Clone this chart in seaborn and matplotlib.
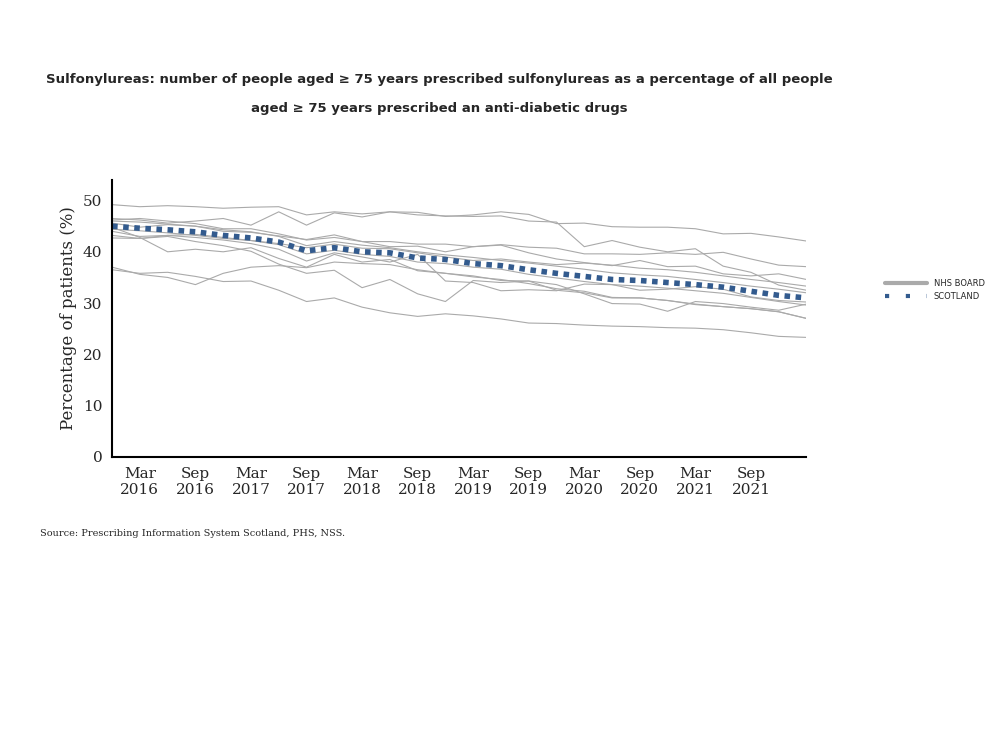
import numpy as np
import pandas as pd
import matplotlib
matplotlib.use('Agg')
import matplotlib.pyplot as plt
import seaborn as sns

# quarterly periods Dec 2015 .. Mar 2022
quarters = pd.period_range('2015Q4', '2022Q1', freq='Q')
tick_labels = ['Mar\n2016', 'Sep\n2016', 'Mar\n2017', 'Sep\n2017', 'Mar\n2018', 'Sep\n2018',
               'Mar\n2019', 'Sep\n2019', 'Mar\n2020', 'Sep\n2020', 'Mar\n2021', 'Sep\n2021']

scotland = [45.0, 44.6, 44.3, 43.9, 43.2, 42.7, 41.9, 40.2, 40.8, 40.0, 39.8, 38.8, 38.5,
            37.7, 37.3, 36.5, 35.8, 35.2, 34.6, 34.4, 34.0, 33.6, 33.1, 32.3, 31.5, 31.0]

boards = {
    'B1': [49.2, 48.8, 49.0, 48.8, 48.5, 48.7, 48.8, 47.2, 47.8, 47.4, 47.8, 47.7, 46.9,
           47.2, 47.8, 47.3, 45.5, 45.6, 44.9, 44.8, 44.8, 44.5, 43.5, 43.6, 42.9, 42.1],
    'B2': [46.5, 46.2, 45.6, 46.0, 46.5, 45.2, 47.8, 45.2, 47.6, 46.8, 47.8, 47.2, 47.0,
           46.9, 47.0, 46.0, 45.8, 41.0, 42.2, 40.9, 40.0, 40.6, 37.2, 36.0, 33.5, 32.5],
    'B3': [46.2, 46.5, 46.0, 45.5, 44.5, 44.5, 43.5, 42.3, 42.8, 42.0, 42.0, 41.5, 41.5,
           41.0, 41.4, 40.9, 40.7, 39.6, 39.6, 39.5, 39.8, 39.5, 39.9, 38.6, 37.4, 37.1],
    'B4': [45.6, 44.8, 45.3, 45.0, 44.0, 43.8, 43.1, 42.4, 43.3, 42.0, 41.0, 41.1, 40.0,
           41.0, 41.3, 39.8, 38.6, 37.9, 37.3, 38.3, 37.1, 37.2, 35.7, 35.3, 35.7, 34.6],
    'B5': [44.8, 42.8, 40.0, 40.5, 40.0, 40.8, 38.7, 37.0, 39.5, 38.0, 38.5, 36.3, 35.8,
           35.3, 34.4, 34.3, 33.6, 31.8, 29.9, 29.8, 28.4, 30.3, 29.9, 29.2, 28.6, 29.8],
    'B6': [44.0, 43.0, 43.2, 42.8, 42.3, 41.6, 40.5, 38.2, 39.8, 39.0, 38.0, 39.5, 34.3,
           34.0, 32.4, 32.6, 32.4, 33.7, 33.6, 32.5, 32.7, 33.2, 32.7, 31.2, 30.5, 30.2],
    'B7': [43.2, 42.6, 43.0, 42.0, 41.2, 40.1, 37.6, 35.8, 36.4, 33.0, 34.6, 31.8, 30.3,
           34.4, 34.0, 34.3, 32.5, 32.0, 31.0, 31.0, 30.5, 29.7, 29.3, 28.9, 28.3, 27.0],
    'B8': [42.7, 42.6, 43.2, 43.4, 42.8, 42.2, 41.6, 40.8, 41.5, 40.7, 40.6, 39.8, 39.0,
           38.3, 38.6, 38.0, 37.5, 37.8, 37.4, 36.8, 36.5, 36.0, 35.3, 34.6, 34.0, 33.3],
    'B9': [37.0, 35.6, 35.0, 33.6, 35.8, 37.0, 37.3, 36.9, 38.0, 37.7, 37.5, 36.5, 35.8,
           35.1, 34.6, 33.8, 32.8, 32.3, 31.1, 31.0, 30.5, 29.8, 29.3, 28.9, 28.3, 27.0],
    'B10': [36.5, 35.8, 36.0, 35.2, 34.2, 34.3, 32.5, 30.3, 31.0, 29.2, 28.1, 27.4, 27.9,
            27.5, 26.9, 26.1, 26.0, 25.7, 25.5, 25.4, 25.2, 25.1, 24.8, 24.2, 23.5, 23.3],
    'B11': [46.0, 45.8, 45.4, 45.0, 44.3, 43.9, 43.0, 41.2, 42.0, 41.3, 40.8, 40.0, 39.4,
            38.9, 38.3, 37.8, 37.2, 36.6, 35.9, 35.5, 35.2, 34.6, 34.0, 33.3, 32.7, 32.0],
    'B12': [44.4, 44.1, 43.7, 43.2, 42.6, 42.2, 41.4, 39.6, 40.3, 39.5, 39.1, 38.0, 37.7,
            37.0, 36.6, 35.6, 34.9, 34.2, 33.6, 33.3, 32.9, 32.4, 31.9, 31.1, 30.3, 29.6],
}

x = np.arange(len(quarters))
rows = []
for name, vals in boards.items():
    for i, v in enumerate(vals):
        rows.append({'x': x[i], 'value': v, 'board': name})
df = pd.DataFrame(rows)

sns.set_style('white')
plt.rcParams['font.family'] = ['DejaVu Serif']

fig = plt.figure(figsize=(9.92, 7.44), dpi=100)
ax = fig.add_axes([0.113, 0.386, 0.7, 0.372])

sns.lineplot(data=df, x='x', y='value', units='board', estimator=None,
             color='#aaaaaa', linewidth=0.8, ax=ax, legend=False)
sns.lineplot(x=x, y=scotland, color='#335b8e', linewidth=4, linestyle=(0, (1, 1)), ax=ax)

ax.set_xlim(0, len(x) - 1)
ax.set_ylim(0, 54)
ax.set_xticks(x[1:-1:2][:12])
ax.set_xticklabels(tick_labels, fontsize=11)
ax.set_yticks([0, 10, 20, 30, 40, 50])
ax.tick_params(axis='y', labelsize=11)
ax.set_xlabel('')
ax.set_ylabel('Percentage of patients (%)', fontsize=12)
sns.despine(ax=ax)
for s in ['left', 'bottom']:
    ax.spines[s].set_color('black')
    ax.spines[s].set_linewidth(1.5)

from matplotlib.lines import Line2D
handles = [Line2D([], [], color='#aaaaaa', linewidth=3),
           Line2D([], [], color='#335b8e', linewidth=3, linestyle=(0, (1, 4)))]
fig.legend(handles, ['NHS BOARD', 'SCOTLAND'], loc='center left',
           bbox_to_anchor=(0.885, 0.61), frameon=False,
           prop={'family': 'DejaVu Sans', 'size': 6}, handlelength=5)

fig.text(0.443, 0.888, 'Sulfonylureas: number of people aged \u2265 75 years prescribed sulfonylureas as a percentage of all people',
         ha='center', fontsize=9.5, fontweight='bold', family='DejaVu Sans')
fig.text(0.443, 0.849, 'aged \u2265 75 years prescribed an anti-diabetic drugs',
         ha='center', fontsize=9.5, fontweight='bold', family='DejaVu Sans')
fig.text(0.04, 0.28, 'Source: Prescribing Information System Scotland, PHS, NSS.', fontsize=7)

fig.savefig('out.png', dpi=100)
